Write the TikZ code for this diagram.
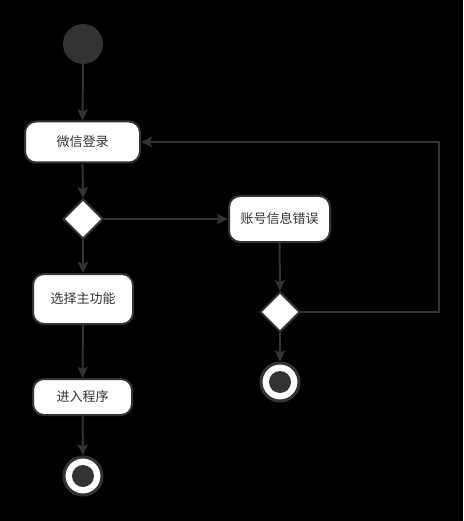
\documentclass[tikz,border=0pt]{standalone}
\usepackage{fontspec}
\newfontfamily\cjk{Noto Sans CJK SC}
\usetikzlibrary{arrows.meta,positioning,shapes.geometric}
\definecolor{linegray}{HTML}{333333}
\tikzset{act/.style={draw=linegray,line width=2pt,fill=white,rounded corners=11pt,text=linegray,font=\cjk\fontsize{13}{15}\selectfont},
 dec/.style={diamond,draw=linegray,line width=2pt,fill=white,minimum size=40pt,inner sep=0pt},
 endpt/.style={circle,draw=linegray,line width=3pt,fill=white,minimum size=38pt,inner sep=0pt},
 flow/.style={draw=linegray,line width=2pt,-{Stealth[length=11pt,width=10pt,inset=2pt]}}}

\begin{document}
\begin{tikzpicture}[x=1pt,y=-1pt]
\fill[black] (0,0) rectangle (463,521);
\node[circle,fill=linegray,minimum size=40pt,inner sep=0pt] (start) at (83,44) {};
\node[act,minimum width=115pt,minimum height=41pt] (login) at (82.5,142) {微信登录};
\node[dec] (d1) at (83,219) {};
\node[act,minimum width=101pt,minimum height=46pt] (err) at (279.5,219) {账号信息错误};
\node[act,minimum width=100pt,minimum height=50pt] (choose) at (83,299) {选择主功能};
\node[dec] (d2) at (280,312) {};
\node[endpt] (end2) at (280,382) {};\fill[linegray] (end2) circle (11pt);
\node[act,minimum width=99pt,minimum height=36pt] (enter) at (82.5,397) {进入程序};
\node[endpt] (end1) at (83,476) {};\fill[linegray] (end1) circle (11pt);
\coordinate (turn) at (439,312);
% main flow
\draw[flow] (start) -- (login);\draw[flow] (login) -- (d1);\draw[flow] (d1) -- (choose);
\draw[flow] (choose) -- (enter);\draw[flow] (enter) -- (end1);
% error branch
\draw[flow] (d1) -- (err);\draw[flow] (err) -- (d2);\draw[flow] (d2) -- (end2);
\draw[flow,line width=1.5pt] (d2.east) -- (turn) |- (login.east);
\end{tikzpicture}
\end{document}
